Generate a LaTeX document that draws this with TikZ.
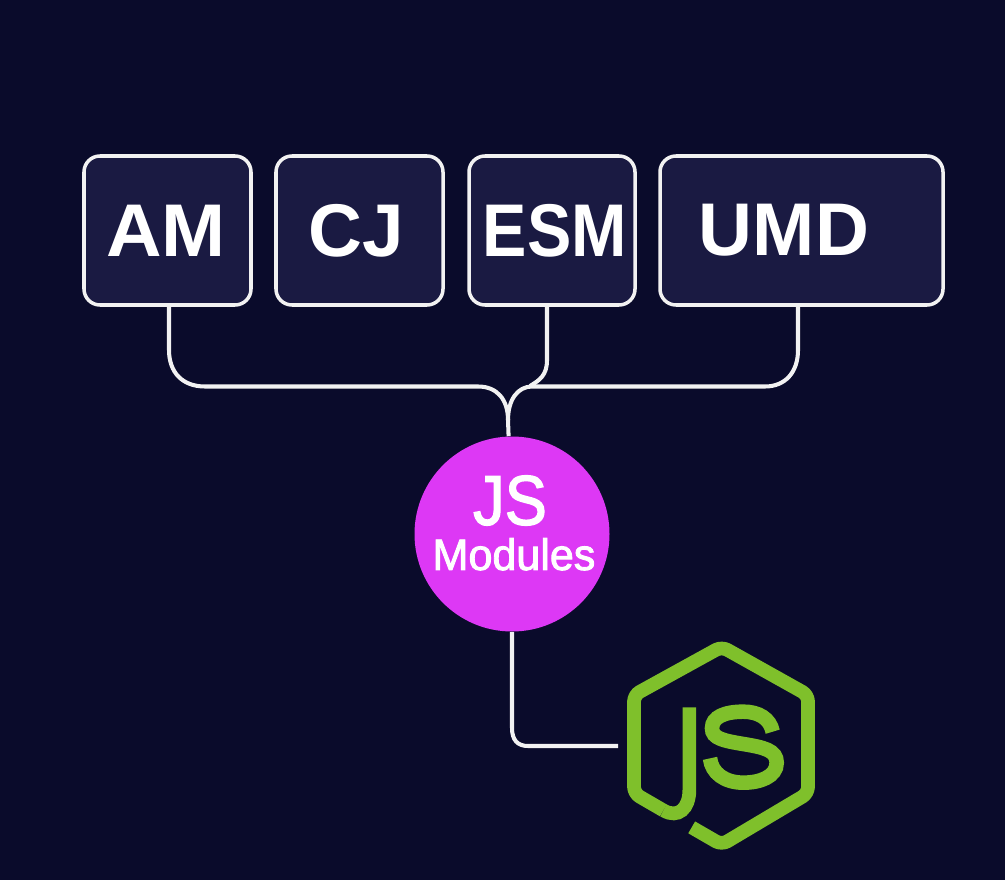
\documentclass[tikz,border=0pt]{standalone}
\usepackage{fontspec}
\setmainfont{Liberation Sans}
\newfontfamily\jsface[FakeBold=2]{Liberation Sans}
\usetikzlibrary{calc}
\definecolor{pagebg}{HTML}{0A0B2B}
\definecolor{boxbg}{HTML}{1A1A42}
\definecolor{boxline}{HTML}{F2F2F2}
\definecolor{jspink}{HTML}{DD38F5}
\definecolor{nodegreen}{HTML}{7FC02B}
\def\boxfont{\fontsize{42.5}{45}\bfseries\selectfont}
\def\jsfont{\jsface\fontsize{40}{44}\selectfont}
\def\modfont{\jsface\fontsize{25}{28.3}\selectfont}
\tikzset{
	modbox/.style={draw=boxline, fill=boxbg, line width=2pt, rounded corners=0.32cm, minimum height=2.98cm, text=white, font=\boxfont, inner sep=0pt},
	wire/.style={draw=boxline, line width=2.3pt},
	logoline/.style={draw=nodegreen, line width=7.8pt}
}

\begin{document}
\begin{tikzpicture}
		%%%%% START %%%%%
		
		\fill[pagebg] (0, 0) rectangle (20.1, 17.6);
		\useasboundingbox (0, 0) rectangle (20.1, 17.6);
		
		\node[modbox, minimum width=3.34cm] (am) at (3.35, 12.99) {\scalebox{1.03}[1]{AM}\kern0.06cm};
		\node[modbox, minimum width=3.34cm] (cj) at (7.19, 12.99) {CJ\kern0.14cm};
		\node[modbox, minimum width=3.32cm] (esm) at (11.04, 12.99) {\kern0.12cm\scalebox{0.89}[1]{ESM}};
		\node[modbox, minimum width=5.66cm] (umd) at (16.03, 12.99) {UMD\kern0.7cm};
		
		\node[circle, fill=jspink, minimum size=3.9cm, inner sep=0pt] (js) at (10.24, 6.92) {};
		\node[text=white, align=center, inner sep=0pt] (jslabel) at (10.28, 7.14) {\jsfont\scalebox{0.9}[1]{JS}\kern0.16cm\\[0.22cm]\modfont\scalebox{0.98}[1]{Modules}};
		
		\coordinate (amfoot) at (3.38, 11.5);
		\coordinate (esmfoot) at (10.94, 11.5);
		\coordinate (umdfoot) at (15.96, 11.5);
		\coordinate (logoport) at (12.36, 2.68);
		
		\draw[wire] (amfoot) -- (3.38, 10.6) .. controls (3.38, 10.15) and (3.65, 9.87) .. (4.1, 9.87) -- (9.56, 9.87) .. controls (9.95, 9.87) and (10.16, 9.6) .. (10.16, 9.2) -- (js.92);
		\draw[wire] (umdfoot) -- (15.96, 10.6) .. controls (15.96, 10.15) and (15.7, 9.87) .. (15.3, 9.87) -- (10.64, 9.87) .. controls (10.35, 9.87) and (10.16, 9.6) .. (10.16, 9.2);
		\draw[wire] (esmfoot) -- (10.94, 10.4) .. controls (10.94, 10.1) and (10.8, 10.0) .. (10.6, 9.88);
		\draw[wire] (js.south) -- (10.24, 3.04) .. controls (10.24, 2.8) and (10.35, 2.68) .. (10.56, 2.68) -- (logoport);
		
		% logo, drawn on the crop's own grid
		\begin{scope}[shift={(12, 5)}, x=0.006667cm, y=-0.006667cm]
			\draw[logoline, line join=round, rounded corners=0.13cm] (275, 592) -- (365, 644) -- (624, 490) -- (624, 195) -- (365, 50) -- (102, 195) -- (102, 490) -- (190, 541);
			\draw[logoline] (190, 541) .. controls (235, 567) and (268, 535) .. (268, 480) -- (268, 232);
			\draw[logoline, line width=8.3pt] (518, 305) .. controls (510, 265) and (475, 245) .. (430, 245) .. controls (375, 245) and (336, 260) .. (336, 295) .. controls (336, 325) and (370, 332) .. (430, 342) .. controls (490, 352) and (530, 360) .. (530, 398) .. controls (530, 440) and (480, 458) .. (430, 458) .. controls (375, 458) and (335, 430) .. (330, 385);
		\end{scope}
		
		%%%%% END %%%%%
	\end{tikzpicture}
\end{document}
